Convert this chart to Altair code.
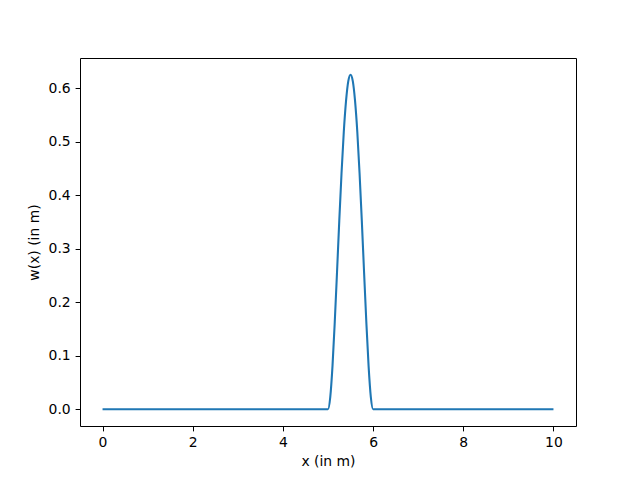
import altair as alt
import pandas as pd

x_vals = [0.0, 1.0, 2.0, 3.0, 4.0, 4.9, 5.0, 5.05, 5.1, 5.15, 5.2, 5.25, 5.3, 5.35, 5.4, 5.45, 5.5,
          5.55, 5.6, 5.65, 5.7, 5.75, 5.8, 5.85, 5.9, 5.95, 6.0, 6.1, 7.0, 8.0, 9.0, 10.0]
w_vals = [0.0, 0.0, 0.0, 0.0, 0.0, 0.0, 0.0, 0.0226, 0.081, 0.163, 0.256, 0.352, 0.441, 0.518, 0.576, 0.613, 0.625,
          0.613, 0.576, 0.518, 0.441, 0.352, 0.256, 0.163, 0.081, 0.0226, 0.0, 0.0, 0.0, 0.0, 0.0, 0.0]

df = pd.DataFrame({"x": x_vals, "w": w_vals})

font = "DejaVu Sans"
fs = 13.9

chart = alt.Chart(df).mark_line(color="#1f77b4", strokeWidth=2.08, interpolate="monotone").encode(
    x=alt.X("x:Q", title="x (in m)",
            scale=alt.Scale(domain=[-0.5, 10.5], nice=False, zero=False),
            axis=alt.Axis(values=[0, 2, 4, 6, 8, 10], format="d", grid=False,
                          tickSize=4.9, tickColor="black", tickWidth=1, domain=False,
                          labelFont=font, labelFontSize=fs, labelColor="black",
                          labelPadding=4.9, titleFont=font, titleFontSize=fs,
                          titleFontWeight="normal", titleColor="black", titlePadding=5)),
    y=alt.Y("w:Q", title="w(x) (in m)",
            scale=alt.Scale(domain=[-0.03125, 0.65625], nice=False, zero=False),
            axis=alt.Axis(values=[0, 0.1, 0.2, 0.3, 0.4, 0.5, 0.6], format=".1f", grid=False,
                          tickSize=4.9, tickColor="black", tickWidth=1, domain=False,
                          labelFont=font, labelFontSize=fs, labelColor="black",
                          labelPadding=4.9, titleFont=font, titleFontSize=fs,
                          titleFontWeight="normal", titleColor="black", titlePadding=7)),
).properties(
    width=496, height=368,
    autosize=alt.AutoSizeParams(type="none"),
    padding={"left": 72, "top": 50, "right": 56, "bottom": 50},
).configure_view(stroke="black", strokeWidth=1)

chart.save("out.html", embed_options={"renderer": "svg", "actions": False})
